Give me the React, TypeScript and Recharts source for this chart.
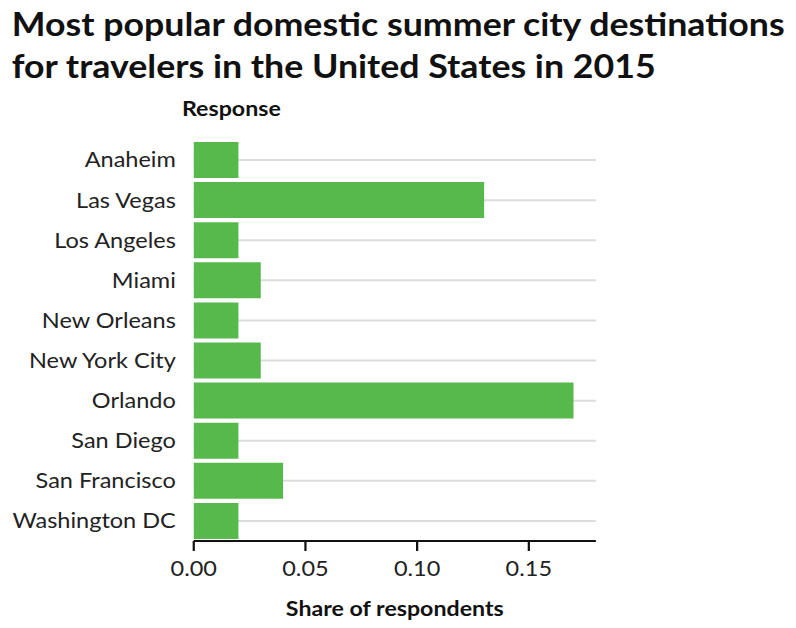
import { Bar, BarChart, CartesianGrid, XAxis, YAxis } from "recharts";

const cities = [
  "Anaheim",
  "Las Vegas",
  "Los Angeles",
  "Miami",
  "New Orleans",
  "New York City",
  "Orlando",
  "San Diego",
  "San Francisco",
  "Washington DC",
];
const shares = [0.02, 0.13, 0.02, 0.03, 0.02, 0.03, 0.17, 0.02, 0.04, 0.02];
const xTicks = [0, 0.05, 0.1, 0.15];

const data = cities.map((city, i) => ({ city, share: shares[i] }));

const font = "Lato, 'Open Sans', sans-serif";
// the reference text is a bit wider than Lato, so the whole drawing is stretched sideways
const stretch = 1.12;
const W = 711;

export default function App() {
  return (
    <div
      style={{
        position: "absolute",
        left: 0,
        top: 0,
        width: 796,
        height: 628,
        overflow: "hidden",
        background: "#fff",
      }}
    >
      <div
        style={{
          position: "absolute",
          left: 0,
          top: 0,
          width: W,
          height: 628,
          transform: `scaleX(${stretch})`,
          transformOrigin: "0 0",
          fontFamily: font,
        }}
      >
        <div
          style={{
            position: "absolute",
            left: 10.5,
            top: 2.5,
            fontSize: 31.9,
            fontWeight: 700,
            lineHeight: "42px",
            color: "#111",
            whiteSpace: "nowrap",
          }}
        >
          Most popular domestic summer city destinations
          <br />
          for travelers in the United States in 2015
        </div>
        <div
          style={{
            position: "absolute",
            left: 162.5,
            top: 96,
            fontSize: 20.7,
            fontWeight: 700,
            color: "#111",
          }}
        >
          Response
        </div>
        <BarChart
          width={W}
          height={628}
          data={data}
          layout="vertical"
          margin={{ top: 140, right: 179, bottom: 0, left: 0 }}
          style={{ position: "absolute", left: 0, top: 0 }}
        >
          <CartesianGrid
            horizontal
            vertical={false}
            syncWithTicks
            stroke="#dcdcdc"
            strokeWidth={2}
          />
          <XAxis
            type="number"
            domain={[0, 0.18]}
            ticks={xTicks}
            tickFormatter={(v: number) => v.toFixed(2)}
            height={87}
            axisLine={{ stroke: "#111", strokeWidth: 2 }}
            tickLine={{ stroke: "#111", strokeWidth: 2 }}
            tickSize={10}
            tickMargin={10}
            tick={{ fill: "#222", fontSize: 21, fontFamily: font }}
            label={{
              value: "Share of respondents",
              position: "insideBottom",
              offset: 12,
              fill: "#111",
              fontSize: 20.7,
              fontWeight: 700,
              fontFamily: font,
            }}
          />
          <YAxis
            type="category"
            dataKey="city"
            width={173}
            axisLine={false}
            tickLine={false}
            tickSize={0}
            tickMargin={16}
            interval={0}
            tick={{ fill: "#222", fontSize: 21, fontFamily: font }}
          />
          <Bar dataKey="share" fill="#57b84b" barSize={36} isAnimationActive={false} />
        </BarChart>
      </div>
    </div>
  );
}
